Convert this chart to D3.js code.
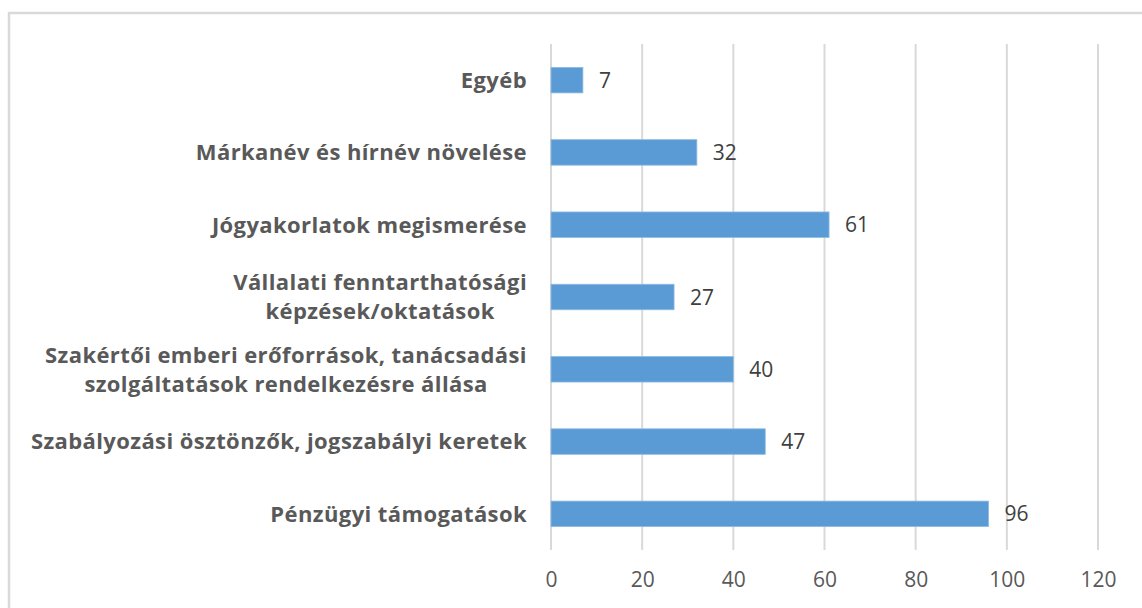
<html>
<head>
<meta charset="utf-8" />
<script src="https://cdn.jsdelivr.net/npm/d3@7/dist/d3.min.js"></script>
<style>
  body { margin: 0; background: #fff; }
  text { font-family: "Open Sans", sans-serif; }
</style>
</head>
<body>
<script>
// data (top to bottom)
var categories = [
  ["Egyéb"],
  ["Márkanév és hírnév növelése"],
  ["Jógyakorlatok megismerése"],
  ["Vállalati fenntarthatósági", "képzések/oktatások"],
  ["Szakértői emberi erőforrások, tanácsadási", "szolgáltatások rendelkezésre állása"],
  ["Szabályozási ösztönzők, jogszabályi keretek"],
  ["Pénzügyi támogatások"]
];
var values = [7, 32, 61, 27, 40, 47, 96];
var xTicks = [0, 20, 40, 60, 80, 100, 120];

var W = 1142, H = 608;
var plot = {left: 551, right: 1098, top: 44, bottom: 550};

var svg = d3.select("body").append("svg")
  .attr("width", W).attr("height", H);

// chart frame
svg.append("rect")
  .attr("x", 9).attr("y", 13)
  .attr("width", 1160).attr("height", 640)
  .attr("fill", "#fff")
  .attr("stroke", "#d9d9d9").attr("stroke-width", 2.5);

var keys = categories.map(function(d, i) { return i; });

var xScale = d3.scaleLinear().domain([0, 120]).range([plot.left, plot.right]);
var yScale = d3.scaleBand().domain(keys).range([plot.top, plot.bottom])
  .paddingInner(0.647).paddingOuter(0.3235);

// gridlines
svg.append("g").selectAll("line")
  .data(xTicks).enter().append("line")
  .attr("x1", d => xScale(d)).attr("x2", d => xScale(d))
  .attr("y1", plot.top).attr("y2", plot.bottom)
  .attr("stroke", "#d9d9d9").attr("stroke-width", 2);

// x axis labels
var xAxis = svg.append("g")
  .attr("transform", "translate(0," + plot.bottom + ")")
  .call(d3.axisBottom(xScale).tickValues(xTicks).tickSize(0).tickPadding(22));
xAxis.select(".domain").remove();
xAxis.selectAll("text")
  .attr("font-family", "Open Sans, sans-serif")
  .attr("font-size", 21)
  .attr("fill", "#595959");

// bars
svg.append("g").selectAll("rect")
  .data(values).enter().append("rect")
  .attr("x", xScale(0))
  .attr("y", (d, i) => yScale(i))
  .attr("width", d => xScale(d) - xScale(0))
  .attr("height", yScale.bandwidth())
  .attr("fill", "#5b9bd5")
  .attr("stroke", "#8fbbe3").attr("stroke-width", 0.8);

// value labels
svg.append("g").selectAll("text")
  .data(values).enter().append("text")
  .attr("x", d => xScale(d) + 16)
  .attr("y", (d, i) => yScale(i) + yScale.bandwidth() / 2)
  .attr("dy", "0.36em")
  .attr("font-size", 21)
  .attr("fill", "#404040")
  .text(d => d);

// category labels: lines centred on each other, block right-aligned
var labelRight = plot.left - 24;
var lineH = 29;
categories.forEach(function(lines, i) {
  var g = svg.append("g");
  var cy = yScale(i) + yScale.bandwidth() / 2;
  var texts = lines.map(function(t, j) {
    return g.append("text")
      .attr("y", cy + (j - (lines.length - 1) / 2) * lineH)
      .attr("dy", "0.36em")
      .attr("font-size", 22)
      .attr("font-weight", "bold")
      .attr("letter-spacing", 0.4)
      .attr("fill", "#595959")
      .attr("text-anchor", "middle")
      .text(t);
  });
  var maxW = d3.max(texts, t => t.node().getComputedTextLength());
  texts.forEach(t => t.attr("x", labelRight - maxW / 2));
});
</script>
</body>
</html>
